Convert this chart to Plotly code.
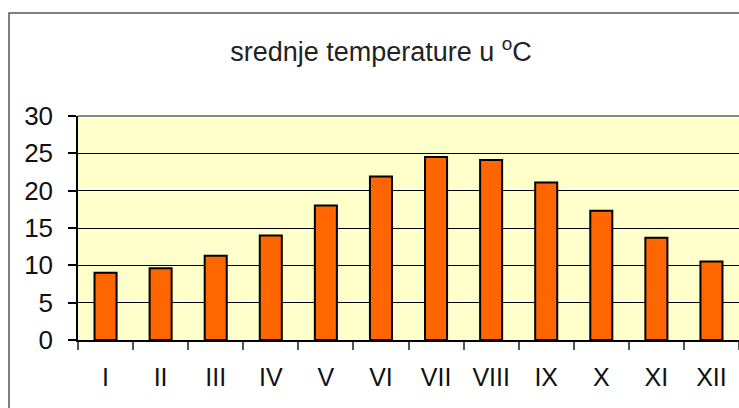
import plotly.graph_objects as go

months = ["I", "II", "III", "IV", "V", "VI", "VII", "VIII", "IX", "X", "XI", "XII"]
temps = [9.0, 9.6, 11.3, 14.0, 18.0, 21.9, 24.5, 24.1, 21.1, 17.3, 13.7, 10.5]
y_ticks = [0, 5, 10, 15, 20, 25, 30]
title_text = "srednje temperature u <sup>o</sup>C"

FONT = "Liberation Sans, Arial, sans-serif"

fig = go.Figure(
    go.Bar(
        x=months,
        y=temps,
        width=0.4,
        marker=dict(color="#FF6600", line=dict(color="#000000", width=2)),
        hoverinfo="x+y",
    )
)

W, H = 739, 408
ml, mr, mt, mb = 78, 0, 116, 68
pw, ph = W - ml - mr, H - mt - mb

fig.update_layout(
    width=W,
    height=H,
    margin=dict(l=ml, r=mr, t=mt, b=mb, pad=0),
    paper_bgcolor="#FFFFFF",
    plot_bgcolor="#FFFFCC",
    showlegend=False,
    bargap=0.6,
    font=dict(family=FONT, size=25, color="#111111"),
    title=dict(
        text=title_text,
        x=381 / W,
        xanchor="center",
        y=1 - 52 / H,
        yanchor="middle",
        font=dict(family=FONT, size=27, color="#222222"),
    ),
    xaxis=dict(
        type="category",
        categoryorder="array",
        categoryarray=months,
        showgrid=False,
        showline=True,
        linecolor="#000000",
        linewidth=2,
        ticks="outside",
        tickson="boundaries",
        ticklen=8,
        tickwidth=1.5,
        tickcolor="#555555",
        ticklabelstandoff=14,
        tickfont=dict(family=FONT, size=25, color="#111111"),
        range=[-0.5, 11.5],
        fixedrange=True,
    ),
    yaxis=dict(
        range=[0, 30],
        tickmode="array",
        tickvals=y_ticks,
        ticktext=[str(v) for v in y_ticks],
        showgrid=True,
        gridcolor="#000000",
        gridwidth=1,
        showline=True,
        linecolor="#000000",
        linewidth=1.5,
        ticks="outside",
        ticklen=8,
        tickwidth=1.5,
        tickcolor="#000000",
        ticklabelstandoff=10,
        zeroline=False,
        tickfont=dict(family=FONT, size=26, color="#111111"),
        fixedrange=True,
    ),
    shapes=[
        dict(type="line", xref="paper", yref="paper", x0=0, x1=1, y0=1, y1=1,
             line=dict(color="#888888", width=2), layer="above"),
        dict(type="rect", xref="paper", yref="paper",
             x0=(9 - ml) / pw, x1=1.1, y0=-0.6, y1=(ph + mt - 13) / ph,
             line=dict(color="#555555", width=1.5), fillcolor="rgba(0,0,0,0)", layer="above"),
    ],
)

fig.write_html(
    "out.html",
    include_plotlyjs=True,
    config={"displayModeBar": False},
    post_script="document.body.style.margin='0';document.body.style.overflow='hidden';",
)
